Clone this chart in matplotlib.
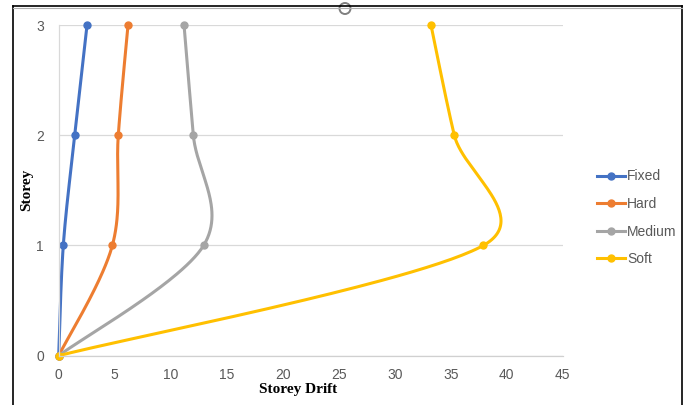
"""Storey drift profile for the four foundation cases."""

import matplotlib

matplotlib.use("Agg")
import matplotlib.pyplot as plt
import numpy as np
from matplotlib.lines import Line2D
from matplotlib.patches import Circle

storeys = [0, 1, 2, 3]
fixed = [0.0, 0.41, 1.43, 2.53]
hard = [0.0, 4.79, 5.32, 6.19]
medium = [0.0, 12.94, 12.02, 11.19]
soft = [0.0, 37.91, 35.32, 33.24]

series_names = ["Fixed", "Hard", "Medium", "Soft"]
series_values = [fixed, hard, medium, soft]
series_colors = ["#4472C4", "#ED7D31", "#A5A5A5", "#FFC000"]

x_ticks = [0, 5, 10, 15, 20, 25, 30, 35, 40, 45]
y_ticks = [0, 1, 2, 3]

W, H = 688, 405
TICK_GREY = "#595959"


def smooth_curve(pts, n=60):
    """Bezier smoothing through points (display coords), spreadsheet style."""
    pts = np.asarray(pts, dtype=float)
    ext = np.vstack([pts[0], pts, pts[-1]])
    t = np.linspace(0, 1, n)[1:, None]
    out = [pts[:1]]
    for i in range(len(pts) - 1):
        p0, p1, p2, p3 = ext[i], ext[i + 1], ext[i + 2], ext[i + 3]
        d12 = np.linalg.norm(p2 - p1)
        d02 = np.linalg.norm(p2 - p0)
        d13 = np.linalg.norm(p3 - p1)
        f1 = 1 / 6 if d02 / 6 < d12 / 2 else d12 / (2 * d02)
        f2 = 1 / 6 if d13 / 6 < d12 / 2 else d12 / (2 * d13)
        c1 = p1 + (p2 - p0) * f1
        c2 = p2 - (p3 - p1) * f2
        seg = ((1 - t) ** 3) * p1 + 3 * ((1 - t) ** 2) * t * c1 + 3 * (1 - t) * t ** 2 * c2 + t ** 3 * p2
        out.append(seg)
    return np.vstack(out)


fig = plt.figure(figsize=(W / 100, H / 100), dpi=100)
fig.patch.set_facecolor("white")

ax_left, ax_right, ax_top, ax_bottom = 58.7, 562.7, 25.0, 355.7
ax = fig.add_axes([ax_left / W, 1 - ax_bottom / H, (ax_right - ax_left) / W, (ax_bottom - ax_top) / H])
ax.set_xlim(0, 45)
ax.set_ylim(0, 3)
ax.set_xticks(x_ticks)
ax.set_yticks(y_ticks)
ax.tick_params(length=0, labelsize=10, labelcolor=TICK_GREY)
ax.tick_params(axis="x", pad=9)
ax.tick_params(axis="y", pad=10.5)
for lab in ax.get_xticklabels() + ax.get_yticklabels():
    lab.set_fontfamily("Liberation Sans")
ax.grid(axis="y", color="#d9d9d9", linewidth=0.9)
ax.set_axisbelow(True)
for side in ["top", "right"]:
    ax.spines[side].set_visible(False)
ax.spines["left"].set_color("#d9d9d9")
ax.spines["bottom"].set_color("#d0d0d0")
ax.spines["left"].set_linewidth(0.9)
ax.spines["bottom"].set_linewidth(0.9)

to_disp = ax.transData
to_data = ax.transData.inverted()
for vals, color in zip(series_values, series_colors):
    disp = to_disp.transform(np.column_stack([vals, storeys]))
    curve = to_data.transform(smooth_curve(disp))
    ax.plot(curve[:, 0], curve[:, 1], color=color, linewidth=2.2, solid_capstyle="round", clip_on=False)
    ax.plot(vals, storeys, "o", color=color, markersize=5, clip_on=False)

fig.text(298 / W, 1 - 389 / H, "Storey Drift", ha="center", va="center",
         fontsize=11, fontweight="bold", family="Liberation Serif")
fig.text(27 / W, 1 - 190 / H, "Storey", ha="center", va="center", rotation=90,
         fontsize=11, fontweight="bold", family="Liberation Serif")

handles = [Line2D([], [], color=c, linewidth=2.2, marker="o", markersize=5) for c in series_colors]
fig.legend(handles, series_names, loc="upper left", bbox_to_anchor=(597 / W, 1 - 169.5 / H),
           frameon=False, prop={"family": "Liberation Sans", "size": 10},
           labelcolor=TICK_GREY, handlelength=2.0, handletextpad=0.15,
           labelspacing=0.98, borderpad=0, borderaxespad=0)

# chart frame
fig.add_artist(Line2D([13 / W, 13 / W], [0, 1 - 5.7 / H], color="black", linewidth=1.2))
fig.add_artist(Line2D([682 / W, 682 / W], [0, 1 - 5.7 / H], color="black", linewidth=1.2))
fig.add_artist(Line2D([13 / W, 682 / W], [1 - 5.7 / H, 1 - 5.7 / H], color="black", linewidth=1.2))
fig.add_artist(Line2D([13 / W, 682 / W], [1 - 8.3 / H, 1 - 8.3 / H], color="#b0b0b0", linewidth=0.8))
handle = Circle((345 / 100, (H - 8.5) / 100), 5.5 / 100, transform=fig.dpi_scale_trans,
                facecolor="white", edgecolor="#7f7f7f", linewidth=1.4)
fig.add_artist(handle)

fig.savefig("out.png", dpi=100)
